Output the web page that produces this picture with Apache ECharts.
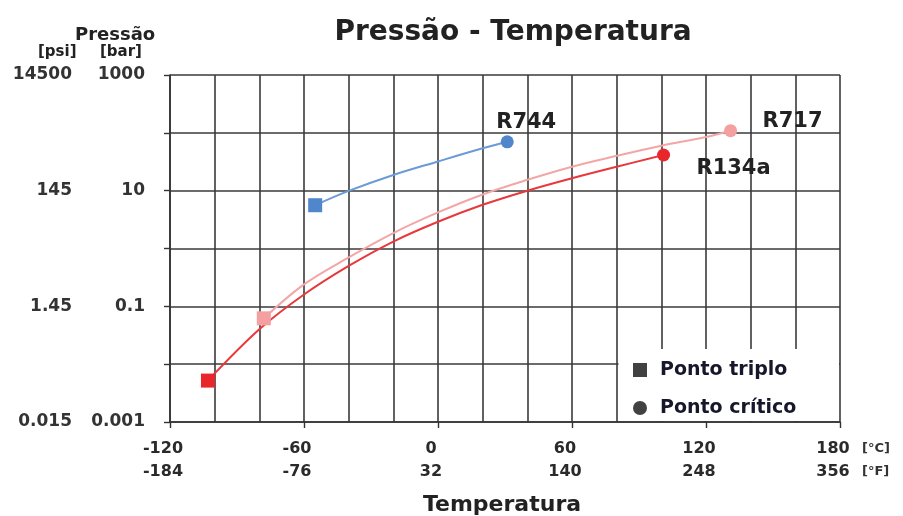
<!DOCTYPE html>
<html>
<head>
<meta charset="utf-8">
<script src="https://cdn.jsdelivr.net/npm/echarts@6/dist/echarts.min.js"></script>
<style>
html,body{margin:0;padding:0;background:#fff;}
#chart{width:903px;height:516px;}
</style>
</head>
<body>
<div id="chart"></div>
<script>
// ---- data ----
const temperatureTicksC = [-120, -60, 0, 60, 120, 180];
const temperatureTicksF = ['-184', '-76', '32', '140', '248', '356'];
const pressureTicksBar = [1000, 10, 0.1, 0.001];
const pressureLabelsBar = ['1000', '10', '0.1', '0.001'];
const pressureLabelsPsi = ['14500', '145', '1.45', '0.015'];

const r744Temp = [-55, -40, -20, 0, 20, 31];
const r744Pres = [5.6, 9.9, 18.7, 32, 54, 70];

const r717Temp = [-78, -60, -40, -20, 0, 20, 40, 60, 80, 100, 120, 131];
const r717Pres = [0.062, 0.24, 0.70, 1.85, 4.2, 8.6, 15.4, 26, 40, 60, 85, 109];

const r134aTemp = [-103, -80, -60, -40, -20, 0, 20, 40, 60, 80, 101];
const r134aPres = [0.0052, 0.040, 0.16, 0.50, 1.32, 2.9, 5.7, 10, 16.4, 25.9, 41.4];

const refrigerants = ['R744', 'R717', 'R134a'];
const legendNames = ['Ponto triplo', 'Ponto crítico'];

// ---- chart ----
const FONT = 'DejaVu Sans';
const chart = echarts.init(document.getElementById('chart'));

function tickIndex(v) {
  return pressureTicksBar.findIndex(t => Math.abs(Math.log10(t) - Math.log10(v)) < 1e-6);
}
function tIndex(v) {
  return temperatureTicksC.findIndex(t => Math.abs(t - v) < 1e-6);
}

function buildData(temps, pres, name, labelOffset) {
  return temps.map((t, i) => {
    const item = { value: [t, pres[i]] };
    if (i === 0) {
      item.symbol = 'rect';
      item.symbolSize = 14;
    } else if (i === temps.length - 1) {
      item.symbol = 'circle';
      item.symbolSize = 13;
      item.label = {
        show: true,
        position: 'inside',
        offset: labelOffset,
        formatter: name,
        fontFamily: FONT,
        fontWeight: 'bold',
        fontSize: 21,
        color: '#222'
      };
    } else {
      item.symbolSize = 0;
    }
    return item;
  });
}

function lineSeries(name, temps, pres, color, lineColor, labelOffset) {
  return {
    name: name,
    type: 'line',
    smooth: 0.35,
    showSymbol: true,
    showAllSymbol: true,
    symbolSize: 0,
    itemStyle: { color: color },
    lineStyle: { color: lineColor, width: 2 },
    emphasis: { disabled: true },
    z: 3,
    data: buildData(temps, pres, name, labelOffset)
  };
}

const gridLine = { color: '#3a3a3a', width: 1.6 };

const option = {
  animation: false,
  backgroundColor: '#fff',
  title: [
    {
      text: 'Pressão - Temperatura',
      left: 513,
      top: 19,
      textAlign: 'center',
      padding: 0,
      textStyle: { fontFamily: FONT, fontWeight: 'bold', fontSize: 28, color: '#222' }
    },
    {
      text: 'Temperatura',
      left: 502,
      top: 494,
      textAlign: 'center',
      padding: 0,
      textStyle: { fontFamily: FONT, fontWeight: 'bold', fontSize: 22, color: '#222' }
    }
  ],
  grid: { left: 170, right: 63, top: 75, bottom: 94, containLabel: false },
  legend: {
    orient: 'vertical',
    left: 628,
    top: 354,
    itemWidth: 14,
    itemHeight: 14,
    itemGap: 16,
    selectedMode: false,
    data: legendNames,
    textStyle: {
      fontFamily: FONT, fontWeight: 'bold', fontSize: 19, color: '#17172c',
      lineHeight: 22, padding: [0, 0, 0, 8]
    }
  },
  xAxis: [
    {
      type: 'value',
      min: -120, max: 180, interval: 60,
      axisLine: { show: true, onZero: false, lineStyle: { color: '#333', width: 1.6 } },
      axisTick: { show: true, length: 6, lineStyle: { color: '#333', width: 1.4 } },
      minorTick: { show: false, splitNumber: 3 },
      splitLine: { show: true, lineStyle: gridLine },
      minorSplitLine: { show: true, lineStyle: gridLine },
      axisLabel: {
        margin: 19,
        padding: [0, 14, 0, 0],
        fontFamily: FONT, fontWeight: 'bold', fontSize: 16, color: '#2a2a2a',
        formatter: v => { const i = tIndex(v); return i >= 0 ? String(temperatureTicksC[i]) : ''; }
      }
    },
    {
      type: 'value',
      position: 'bottom',
      min: -120, max: 180, interval: 60,
      axisLine: { show: false, onZero: false },
      axisTick: { show: false },
      splitLine: { show: false },
      axisLabel: {
        margin: 42,
        padding: [0, 14, 0, 0],
        fontFamily: FONT, fontWeight: 'bold', fontSize: 16, color: '#2a2a2a',
        formatter: v => { const i = tIndex(v); return i >= 0 ? temperatureTicksF[i] : ''; }
      }
    }
  ],
  yAxis: [
    {
      type: 'log',
      logBase: 10,
      min: 0.001, max: 1000,
      splitNumber: 6,
      axisLine: { show: true, onZero: false, lineStyle: { color: '#333', width: 1.6 } },
      axisTick: { show: true, length: 6, lineStyle: { color: '#333', width: 1.4 } },
      splitLine: { show: true, lineStyle: gridLine },
      axisLabel: {
        margin: 25,
        fontFamily: FONT, fontWeight: 'bold', fontSize: 17, color: '#333',
        formatter: v => { const i = tickIndex(v); return i >= 0 ? pressureLabelsBar[i] : ''; }
      }
    },
    {
      type: 'log',
      logBase: 10,
      position: 'left',
      min: 0.001, max: 1000,
      splitNumber: 6,
      axisLine: { show: false, onZero: false },
      axisTick: { show: false },
      splitLine: { show: false },
      axisLabel: {
        margin: 98,
        fontFamily: FONT, fontWeight: 'bold', fontSize: 17, color: '#333',
        formatter: v => { const i = tickIndex(v); return i >= 0 ? pressureLabelsPsi[i] : ''; }
      }
    }
  ],
  graphic: [
    { type: 'rect', z: 1, shape: { x: 618.5, y: 349, width: 220.5, height: 72 }, style: { fill: '#fff' } },
    { type: 'text', left: 75, top: 26, style: { text: 'Pressão', font: 'bold 18px "DejaVu Sans"', fill: '#222' } },
    { type: 'text', left: 38, top: 45, style: { text: '[psi]', font: 'bold 15px "DejaVu Sans"', fill: '#222' } },
    { type: 'text', left: 100, top: 45, style: { text: '[bar]', font: 'bold 15px "DejaVu Sans"', fill: '#222' } },
    { type: 'text', left: 862, top: 442, style: { text: '[°C]', font: 'bold 13px "DejaVu Sans"', fill: '#333' } },
    { type: 'text', left: 862, top: 465, style: { text: '[°F]', font: 'bold 13px "DejaVu Sans"', fill: '#333' } }
  ],
  series: [
    lineSeries(refrigerants[0], r744Temp, r744Pres, '#4f86cc', '#6b9bd6', [19, -19]),
    lineSeries(refrigerants[1], r717Temp, r717Pres, '#f4a0a0', '#f3a6a6', [62, -9]),
    lineSeries(refrigerants[2], r134aTemp, r134aPres, '#e8262c', '#e8383c', [70, 14]),
    { name: legendNames[0], type: 'scatter', symbol: 'rect', itemStyle: { color: '#111' }, data: [] },
    { name: legendNames[1], type: 'scatter', symbol: 'circle', itemStyle: { color: '#111' }, data: [] }
  ]
};

chart.setOption(option);
</script>
</body>
</html>
